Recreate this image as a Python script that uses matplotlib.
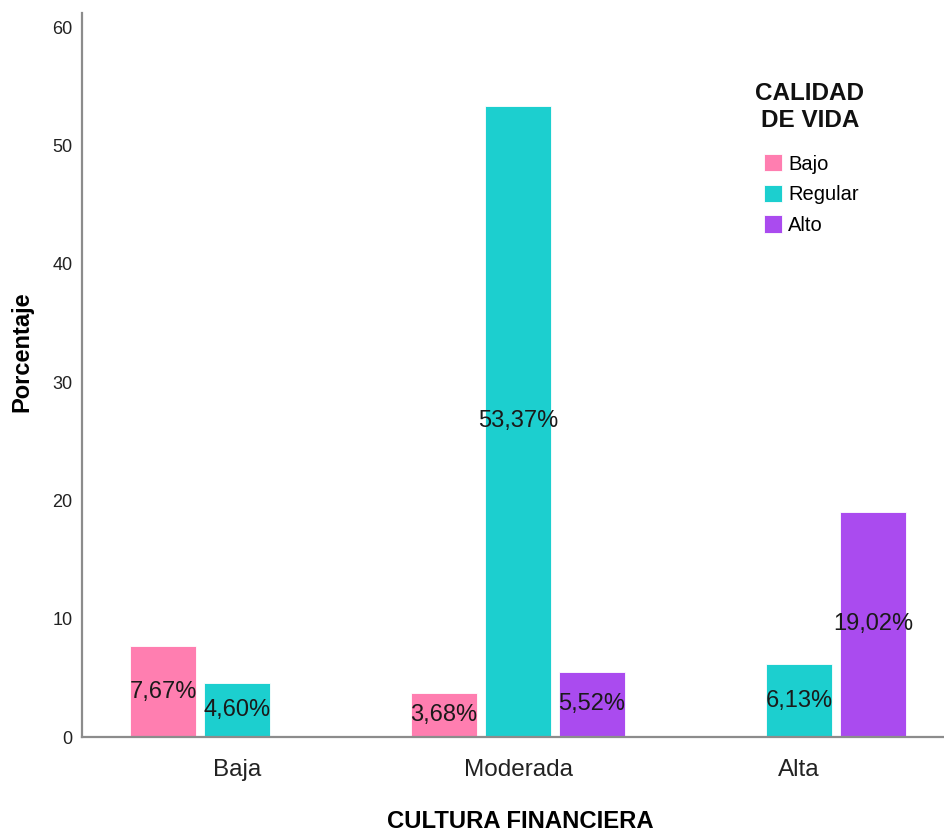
import numpy as np
import matplotlib
matplotlib.use("Agg")
import matplotlib.pyplot as plt

categories = ["Baja", "Moderada", "Alta"]
series = ["Bajo", "Regular", "Alto"]
bajo = [7.67, 3.68, np.nan]
regular = [4.60, 53.37, 6.13]
alto = [np.nan, 5.52, 19.02]
yticks = [0, 10, 20, 30, 40, 50, 60]

colors = ["#FF7EB0", "#1CCFCF", "#AA4BEF"]

plt.rcParams['font.family'] = ['Liberation Sans', 'DejaVu Sans']

fig = plt.figure(figsize=(9.45, 8.35), dpi=100)
ax = fig.add_axes([82/945, (835-737)/835, (945-82)/945, (737-13)/835])

x = np.arange(len(categories))
w = 0.235
step = 0.263
for i, (name, vals, c) in enumerate(zip(series, [bajo, regular, alto], colors)):
    xs = x + (i - 1) * step
    v = np.array(vals, dtype=float)
    mask = ~np.isnan(v)
    ax.bar(xs[mask], v[mask], width=w, color=c, label=name,
           edgecolor="white", linewidth=0.6, zorder=2)
    for xi, vi in zip(xs[mask], v[mask]):
        ax.text(xi, vi / 2, f"{vi:.2f}%".replace(".", ","), ha="center",
                va="center", fontsize=17, color="#1a1a1a", zorder=3)

ax.set_xlim(-(237 - 82) / 281, (945 - 237) / 281)
ax.set_ylim(0, 61.2)
ax.set_yticks(yticks)
ax.set_xticks(x)
ax.set_xticklabels(categories, fontsize=17.5, color="#222222")
ax.tick_params(axis="y", length=0, labelsize=13, pad=7, labelcolor="#222222")
ax.tick_params(axis="x", length=0, pad=16)
for s in ["top", "right"]:
    ax.spines[s].set_visible(False)
for s in ["left", "bottom"]:
    ax.spines[s].set_color("#8c8c8c")
    ax.spines[s].set_linewidth(1.6)

ax.set_ylabel("Porcentaje", fontsize=17, fontweight="bold")
ax.yaxis.set_label_coords((33 - 82) / 863, (737 - 352) / 724)
ax.set_xlabel("CULTURA FINANCIERA", fontsize=17.2, fontweight="bold")
ax.xaxis.set_label_coords((520 - 82) / 863, (737 - 810) / 724)

# legend title
ax.text((810 - 82) / 863, (737 - 107) / 724, "CALIDAD\nDE VIDA", transform=ax.transAxes,
        ha="center", va="center", fontsize=17.5, fontweight="bold", linespacing=1.2,
        color="#111111")
leg = ax.legend(loc="upper left",
                bbox_to_anchor=((764 - 82) / 863, (737 - 154) / 724),
                frameon=False, fontsize=14.5, handlelength=0.9, handleheight=0.95,
                handletextpad=0.3, labelspacing=0.55, borderaxespad=0, borderpad=0)

fig.savefig("out.png", dpi=100)
